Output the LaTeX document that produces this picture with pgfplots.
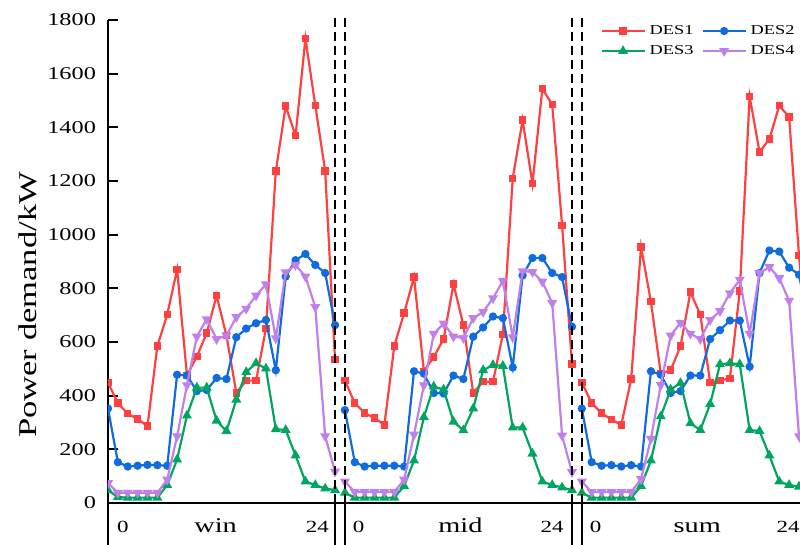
\documentclass[border=0pt]{standalone}
\usepackage{pgfplots}
\pgfplotsset{compat=1.18}
\usepackage{fontspec}
\setmainfont{Liberation Serif}[FakeStretch=1.35]
\definecolor{cR}{RGB}{255,64,64}
\definecolor{cB}{RGB}{16,108,222}
\definecolor{cG}{RGB}{0,166,96}
\definecolor{cP}{RGB}{192,128,234}
\newcommand\fs[1]{\fontsize{#1}{#1}\selectfont}
\begin{document}
\begin{tikzpicture}
\useasboundingbox (-54pt,-21pt) rectangle (346pt,251.5pt);
\begin{axis}[
  scale only axis, width=346pt, height=241.5pt,
  xmin=0, xmax=70.1, ymin=0, ymax=1800,
  axis x line=bottom, axis y line=left,
  axis line style={-, line width=1pt, black},
  xtick=\empty,
  ytick={0,200,...,1800},
  tick align=inside,
  major tick length=5pt,
  every tick/.style={black, line width=1pt},
  yticklabel style={font=\fs{9pt}, xshift=-2.5pt},
  /pgf/number format/assume math mode=true,
  /pgf/number format/1000 sep={},
  clip mode=individual,
  clip marker paths=true,
  unbounded coords=jump,
  legend columns=2,
  legend cell align=left,
  legend style={draw=none, fill=none, font=\fs{6.8pt}, at={(rel axis cs:0.7024,1.007)}, anchor=north west,
    /tikz/every even column/.append style={column sep=2pt}, row sep=0pt},
  legend image code/.code={\draw[mark repeat=2,mark phase=2] plot coordinates {(0pt,0pt) (10.75pt,0pt) (21.5pt,0pt)};},
]
\addplot[cR, line width=1.1pt, mark=square*, mark size=1.3pt, mark options={solid}] coordinates {
(0,449) (1,372) (2,333) (3,313) (4,287) (5,585) (6,702) (7,870) (8,475) (9,546) (10,633) (11,773)
(12,624) (13,410) (14,456) (15,456) (16,650) (17,1237) (18,1479) (19,1369) (20,1731) (21,1481) (22,1237) (23,534)
(23.5,nan)
(24,456) (25,372) (26,335) (27,316) (28,291) (29,585) (30,708) (31,842) (32,491) (33,544) (34,611) (35,816)
(36,663) (37,410) (38,452) (39,452) (40,628) (41,1210) (42,1427) (43,1190) (44,1544) (45,1485) (46,1035) (47,518)
(47.5,nan)
(48,449) (49,372) (50,335) (51,311) (52,291) (53,462) (54,954) (55,750) (56,482) (57,495) (58,585) (59,786)
(60,702) (61,449) (62,456) (63,465) (64,790) (65,1515) (66,1308) (67,1356) (68,1481) (69,1438) (70,922) (71,520)
};
\addlegendentry{DES1}
\addplot[cB, line width=1.1pt, mark=*, mark size=1.5pt] coordinates {
(0,352) (1,152) (2,136) (3,139) (4,142) (5,141) (6,139) (7,478) (8,475) (9,417) (10,421) (11,466)
(12,462) (13,618) (14,650) (15,670) (16,682) (17,495) (18,844) (19,905) (20,928) (21,887) (22,857) (23,663)
(23.5,nan)
(24,346) (25,152) (26,136) (27,139) (28,139) (29,139) (30,136) (31,491) (32,482) (33,410) (34,408) (35,475)
(36,462) (37,620) (38,654) (39,695) (40,689) (41,505) (42,848) (43,913) (44,913) (45,857) (46,842) (47,657)
(47.5,nan)
(48,352) (49,152) (50,139) (51,141) (52,136) (53,141) (54,136) (55,491) (56,478) (57,410) (58,417) (59,475)
(60,475) (61,611) (62,644) (63,680) (64,680) (65,508) (66,857) (67,941) (68,937) (69,877) (70,851) (71,660)
};
\addlegendentry{DES2}
\addplot[cG, line width=1.1pt, mark=triangle*, mark size=1.8pt] coordinates {
(0,48) (1,22) (2,20) (3,20) (4,20) (5,20) (6,67) (7,162) (8,326) (9,430) (10,430) (11,307)
(12,268) (13,385) (14,488) (15,521) (16,501) (17,275) (18,272) (19,177) (20,80) (21,67) (22,54) (23,48)
(23.5,nan)
(24,38) (25,20) (26,20) (27,20) (28,20) (29,20) (30,63) (31,158) (32,320) (33,434) (34,423) (35,303)
(36,271) (37,352) (38,495) (39,514) (40,511) (41,281) (42,281) (43,184) (44,80) (45,67) (46,58) (47,48)
(47.5,nan)
(48,38) (49,20) (50,20) (51,20) (52,20) (53,20) (54,63) (55,158) (56,323) (57,423) (58,447) (59,297)
(60,272) (61,369) (62,517) (63,521) (64,517) (65,272) (66,268) (67,177) (68,80) (69,67) (70,61) (71,50)
};
\addlegendentry{DES3}
\addplot[cP, line width=1.1pt, mark=triangle*, mark size=1.8pt, mark options={rotate=180}] coordinates {
(0,74) (1,38) (2,38) (3,38) (4,38) (5,38) (6,87) (7,249) (8,439) (9,620) (10,685) (11,611)
(12,624) (13,693) (14,724) (15,773) (16,815) (17,614) (18,860) (19,887) (20,844) (21,730) (22,249) (23,117)
(23.5,nan)
(24,80) (25,41) (26,41) (27,41) (28,41) (29,41) (30,87) (31,255) (32,439) (33,631) (34,669) (35,620)
(36,615) (37,689) (38,712) (39,763) (40,828) (41,618) (42,864) (43,861) (44,825) (45,745) (46,251) (47,115)
(47.5,nan)
(48,80) (49,41) (50,41) (51,41) (52,41) (53,41) (54,89) (55,239) (56,440) (57,624) (58,672) (59,631)
(60,611) (61,682) (62,715) (63,782) (64,832) (65,631) (66,857) (67,879) (68,838) (69,754) (70,249) (71,115)
};
\addlegendentry{DES4}
% separators
\draw[black, line width=1pt, dash pattern=on 4.5pt off 2.5pt] (axis cs:23,0) -- (axis cs:23,1818);
\draw[black, line width=1pt, dash pattern=on 4.5pt off 2.5pt] (axis cs:24,0) -- (axis cs:24,1818);
\draw[black, line width=1pt, dash pattern=on 4.5pt off 2.5pt] (axis cs:47,0) -- (axis cs:47,1818);
\draw[black, line width=1pt, dash pattern=on 4.5pt off 2.5pt] (axis cs:48,0) -- (axis cs:48,1818);
\draw[black, line width=1pt] (axis cs:0,0) -- ++(0,-21pt);
\draw[black, line width=1pt] (axis cs:23,0) -- ++(0,-21pt);
\draw[black, line width=1pt] (axis cs:24,0) -- ++(0,-21pt);
\draw[black, line width=1pt] (axis cs:47,0) -- ++(0,-21pt);
\draw[black, line width=1pt] (axis cs:48,0) -- ++(0,-21pt);
% bottom labels
\node[anchor=base, yshift=-15pt, font=\fs{8.5pt}] at (axis cs:1.5,0) {0};
\node[anchor=base, yshift=-15pt, font=\fs{10.5pt}] at (axis cs:10.9,0) {win};
\node[anchor=base, yshift=-15pt, font=\fs{8.5pt}] at (axis cs:21.2,0) {24};
\node[anchor=base, yshift=-15pt, font=\fs{8.5pt}] at (axis cs:25.4,0) {0};
\node[anchor=base, yshift=-15pt, font=\fs{10.5pt}] at (axis cs:35.7,0) {mid};
\node[anchor=base, yshift=-15pt, font=\fs{8.5pt}] at (axis cs:45.0,0) {24};
\node[anchor=base, yshift=-15pt, font=\fs{8.5pt}] at (axis cs:49.4,0) {0};
\node[anchor=base, yshift=-15pt, font=\fs{10.5pt}] at (axis cs:59.7,0) {sum};
\node[anchor=base, yshift=-15pt, font=\fs{8.5pt}] at (axis cs:68.9,0) {24};
% y label
\node[rotate=90, font=\fs{12.8pt}] at (rel axis cs:-0.1156,0.41) {Power demand/kW};
\end{axis}
\end{tikzpicture}
\end{document}
